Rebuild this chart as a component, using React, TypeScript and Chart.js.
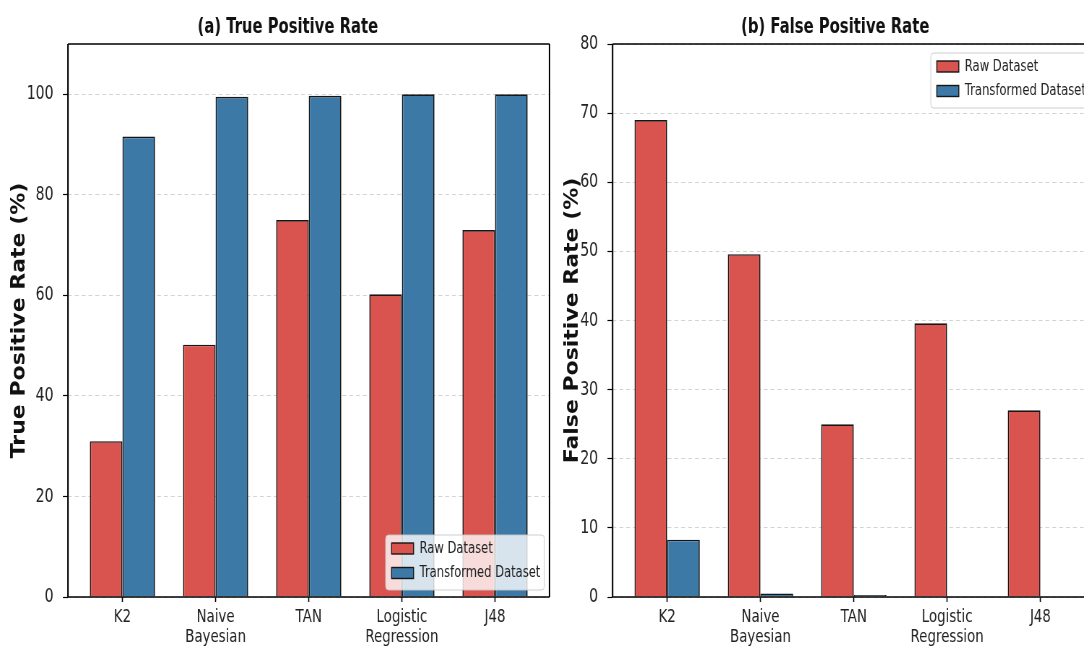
import React, { useEffect, useRef } from 'react';
import { Chart, registerables } from 'chart.js';

Chart.register(...registerables);
Chart.defaults.font.family = '"DejaVu Sans", "Noto Sans", sans-serif';

// ---------------- data ----------------
const categories: (string | string[])[] = ['K2', ['Naive', 'Bayesian'], 'TAN', ['Logistic', 'Regression'], 'J48'];
const seriesLabels = ['Raw Dataset', 'Transformed Dataset'];
const tprRaw = [31, 50.2, 75, 60.2, 73];
const tprTransformed = [91.6, 99.5, 99.7, 100, 100];
const fprRaw = [69, 49.6, 25, 39.6, 27];
const fprTransformed = [8.3, 0.5, 0.3, 0, 0];
const tprTicks = [0, 20, 40, 60, 80, 100];
const fprTicks = [0, 10, 20, 30, 40, 50, 60, 70, 80];

// ---------------- styling ----------------
const S = 1084 / 1500; // horizontal squeeze of the figure
const RED = '#d9534f';
const BLUE = '#3d79a7';
const EDGE = '#161616';
const H = 649;
const CL = 770;
const CR = 752;

const decorPlugin = {
  id: 'decor',
  afterDraw(chart: any) {
    const o = chart.options.plugins.decor;
    if (!o) return;
    const { ctx, chartArea: a } = chart;
    ctx.save();
    // frame
    ctx.strokeStyle = '#000';
    ctx.lineWidth = 1.5;
    ctx.beginPath();
    ctx.moveTo(a.left, a.top);
    ctx.lineTo(a.right, a.top);
    ctx.moveTo(a.left, a.bottom);
    ctx.lineTo(a.right, a.bottom);
    ctx.stroke();
    ctx.lineWidth = 1.5 / S;
    ctx.beginPath();
    ctx.moveTo(a.left, a.top);
    ctx.lineTo(a.left, a.bottom);
    ctx.moveTo(a.right, a.top);
    ctx.lineTo(a.right, a.bottom);
    ctx.stroke();

    // title
    ctx.fillStyle = '#111';
    ctx.font = 'bold 20.5px "DejaVu Sans", sans-serif';
    ctx.textAlign = 'center';
    ctx.textBaseline = 'alphabetic';
    ctx.fillText(o.title, (a.left + a.right) / 2 + o.titleShift, 33);

    // y label
    ctx.save();
    ctx.translate(o.ylabelX, (a.top + a.bottom) / 2 + o.ylabelShift);
    ctx.scale(o.labelStretch, 1);
    ctx.rotate(-Math.PI / 2);
    ctx.font = 'bold 22px "DejaVu Sans", sans-serif';
    ctx.textBaseline = 'middle';
    ctx.textAlign = 'center';
    ctx.fillText(o.ylabel, 0, 0);
    ctx.restore();

    // legend
    const bw = 220;
    const bh = 55;
    const right = a.right - 7;
    const left = right - bw;
    const top = o.legendPos === 'br' ? a.bottom - 7 - bh : a.top + 9;
    ctx.fillStyle = 'rgba(255,255,255,0.8)';
    ctx.strokeStyle = 'rgba(200,200,200,0.9)';
    ctx.lineWidth = 1;
    ctx.beginPath();
    if (ctx.roundRect) ctx.roundRect(left, top, bw, bh, 4);
    else ctx.rect(left, top, bw, bh);
    ctx.fill();
    ctx.stroke();
    const rows = [13.5, 38];
    chart.data.datasets.forEach((ds: any, i: number) => {
      const cy = top + rows[i];
      ctx.fillStyle = ds.backgroundColor;
      ctx.fillRect(left + 8.3, cy - 5.5, 30.4, 11);
      ctx.strokeStyle = EDGE;
      ctx.lineWidth = 1.4;
      ctx.strokeRect(left + 8.3, cy - 5.5, 30.4, 11);
      ctx.fillStyle = '#222';
      ctx.font = '16px "DejaVu Sans", sans-serif';
      ctx.textAlign = 'left';
      ctx.textBaseline = 'middle';
      ctx.fillText(ds.label, left + 47, cy);
    });
    ctx.restore();
  },
};

interface Cfg {
  raw: number[];
  transformed: number[];
  yMax: number;
  yTicks: number[];
  title: string;
  ylabel: string;
  axisLeft: number;
  padRight: number;
  titleShift: number;
  ylabelX: number;
  ylabelShift: number;
  legendPos: 'br' | 'tr';
}

function makeChart(canvas: HTMLCanvasElement, c: Cfg) {
  const ds = (label: string, values: number[], color: string) => ({
    label,
    data: values.map((v, i) => ({ x: i, y: v })),
    backgroundColor: color,
    borderColor: EDGE,
    borderWidth: 1.7,
    borderSkipped: 'start',
    categoryPercentage: 0.7,
    barPercentage: 1,
  });
  return new Chart(canvas, {
    type: 'bar',
    data: {
      datasets: [ds(seriesLabels[0], c.raw, RED), ds(seriesLabels[1], c.transformed, BLUE)] as any,
    },
    plugins: [decorPlugin],
    options: {
      responsive: false,
      devicePixelRatio: 1,
      animation: false,
      layout: { padding: { top: 44, left: 0, right: c.padRight, bottom: 0 } },
      plugins: {
        legend: { display: false },
        title: { display: false },
        tooltip: { enabled: false },
        decor: {
          title: c.title,
          titleShift: c.titleShift,
          ylabel: c.ylabel,
          ylabelX: c.ylabelX,
          ylabelShift: c.ylabelShift,
          labelStretch: 1.2,
          legendPos: c.legendPos,
        },
      } as any,
      scales: {
        x: {
          type: 'linear',
          min: -0.585,
          max: 4.585,
          offset: false,
          afterBuildTicks: (s: any) => {
            s.ticks = categories.map((_, i) => ({ value: i }));
          },
          afterFit: (s: any) => {
            s.height = 52;
          },
          ticks: {
            callback: (v: any) => categories[Math.round(Number(v))],
            font: { size: 18.5, lineHeight: 1.1 },
            color: '#222',
            padding: 5,
            maxRotation: 0,
            autoSkip: false,
          },
          grid: {
            offset: false,
            drawOnChartArea: false,
            drawTicks: true,
            tickLength: 5,
            tickColor: '#000',
            tickWidth: 1.6,
          },
          border: { display: false },
        } as any,
        y: {
          min: 0,
          max: c.yMax,
          afterBuildTicks: (s: any) => {
            s.ticks = c.yTicks.map((v) => ({ value: v }));
          },
          afterFit: (s: any) => {
            s.width = c.axisLeft;
          },
          ticks: { font: { size: 19.5 }, color: '#222', padding: 13 },
          grid: {
            color: 'rgba(175,175,175,0.55)',
            lineWidth: 1,
            drawTicks: true,
            tickLength: 7,
            tickColor: '#000',
            tickWidth: 1.2,
          },
          border: { display: false, dash: [5.5, 4] },
        } as any,
      },
    },
  });
}

export default function App() {
  const leftRef = useRef<HTMLCanvasElement>(null);
  const rightRef = useRef<HTMLCanvasElement>(null);

  useEffect(() => {
    document.body.style.margin = '0';
    const c1 = makeChart(leftRef.current!, {
      raw: tprRaw,
      transformed: tprTransformed,
      yMax: 110,
      yTicks: tprTicks,
      title: '(a) True Positive Rate',
      ylabel: 'True Positive Rate (%)',
      axisLeft: 94.1,
      padRight: 9,
      titleShift: -29,
      ylabelX: 27.5,
      ylabelShift: 0,
      legendPos: 'br',
    });
    const c2 = makeChart(rightRef.current!, {
      raw: fprRaw,
      transformed: fprTransformed,
      yMax: 80,
      yTicks: fprTicks,
      title: '(b) False Positive Rate',
      ylabel: 'False Positive Rate (%)',
      axisLeft: 78.2,
      padRight: 6.9,
      titleShift: -25.7,
      ylabelX: 22.8,
      ylabelShift: 0,
      legendPos: 'tr',
    });
    return () => {
      c1.destroy();
      c2.destroy();
    };
  }, []);

  return (
    <div
      style={{
        position: 'fixed',
        left: 0,
        top: 0,
        width: 1084,
        height: H,
        overflow: 'hidden',
        background: '#fff',
      }}
    >
      <canvas
        ref={leftRef}
        width={CL}
        height={H}
        style={{ position: 'absolute', left: 0, top: 0, width: CL * S + 'px', height: H + 'px' }}
      />
      <canvas
        ref={rightRef}
        width={CR}
        height={H}
        style={{ position: 'absolute', left: CL * S + 'px', top: 0, width: CR * S + 'px', height: H + 'px' }}
      />
    </div>
  );
}
